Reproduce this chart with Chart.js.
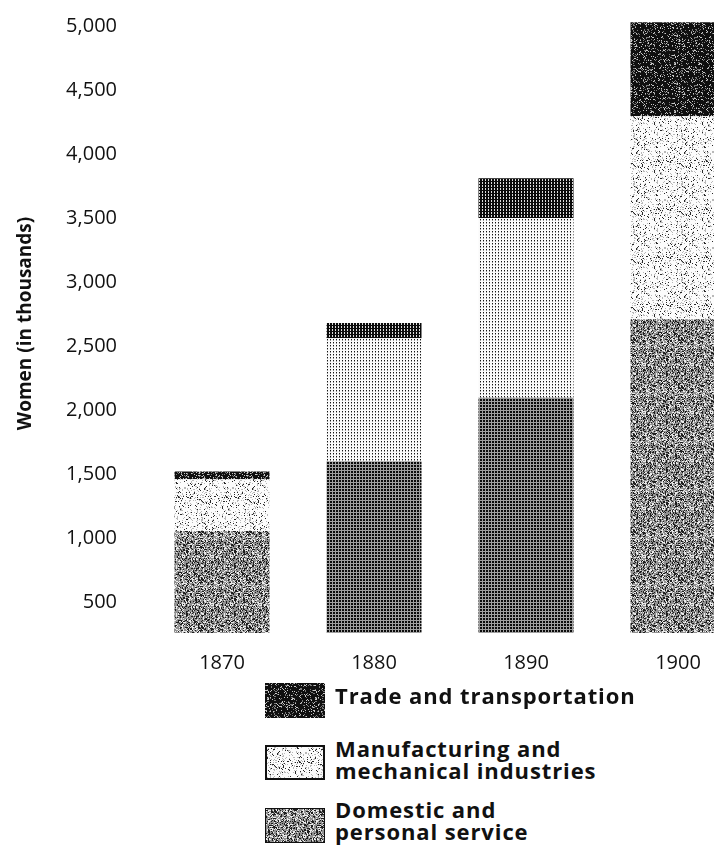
<!DOCTYPE html>
<html><head><meta charset="utf-8">
<script src="https://cdn.jsdelivr.net/npm/chart.js@4/dist/chart.umd.min.js"></script>
<style>
html,body{margin:0;padding:0;background:#fff;overflow:hidden;width:714px;height:865px;position:relative;}
#wrap{position:absolute;left:0;top:0;width:770px;height:690px;}
.sw{position:absolute;left:265px;width:60px;height:35px;}
.lt{position:absolute;left:335px;font-family:"Open Sans",sans-serif;font-weight:bold;font-size:22px;letter-spacing:0.9px;line-height:22px;color:#111;white-space:nowrap;}
</style></head><body>
<div id="wrap"><canvas id="c"></canvas></div>
<div id="legend"></div>
<script>
// ---- data ----
const years = ['1870', '1880', '1890', '1900'];
const domestic = [1055, 1600, 2095, 2710];
const manufacturing = [405, 960, 1405, 1585];
const trade = [60, 120, 310, 735];
const yTicks = [500, 1000, 1500, 2000, 2500, 3000, 3500, 4000, 4500, 5000];
const seriesNames = ['Domestic and personal service', 'Manufacturing and mechanical industries', 'Trade and transportation'];
const legendLines = [['Trade and transportation'], ['Manufacturing and', 'mechanical industries'], ['Domestic and', 'personal service']];
const yTitle = 'Women (in thousands)';

// ---- textures (print screens) ----
function hash(x, y, s) { const v = Math.sin(x * 12.9898 + y * 78.233 + s * 37.719) * 43758.5453; return v - Math.floor(v); }
function tile(w, h, fn) {
  const c = document.createElement('canvas'); c.width = w; c.height = h;
  const g = c.getContext('2d'); const img = g.createImageData(w, h);
  for (let y = 0; y < h; y++) for (let x = 0; x < w; x++) {
    const v = fn(x, y); const i = (y * w + x) * 4;
    img.data[i] = img.data[i + 1] = img.data[i + 2] = v; img.data[i + 3] = 255;
  }
  g.putImageData(img, 0, 0); return c;
}
const tDomS = tile(48, 48, (x, y) => { const r = hash(x, y, 1); return r < 0.26 ? 30 : r < 0.5 ? 235 : 145; });
const tManS = tile(48, 48, (x, y) => { const r = hash(x, y, 2); return r < 0.07 ? 40 : r < 0.22 ? 185 : 252; });
const tTrdS = tile(48, 48, (x, y) => { const r = hash(x, y, 3); return r < 0.1 ? 200 : r < 0.2 ? 120 : 15; });
const tDomG = tile(3, 3, (x, y) => (x === 2 || y === 2) ? 160 : 12);
const tManG = tile(3, 3, (x, y) => (x === 0 && y === 0) ? 20 : (x === 0 && y === 1) ? 150 : 250);
const tTrdG = tile(3, 3, (x, y) => (x === 2 && y !== 1) ? 220 : 10);

const canvas = document.getElementById('c');
const cctx = canvas.getContext('2d');
const P = t => cctx.createPattern(t, 'repeat');
const domS = P(tDomS), manS = P(tManS), trdS = P(tTrdS), domG = P(tDomG), manG = P(tManG), trdG = P(tTrdG);

const chart = new Chart(cctx, {
  type: 'bar',
  data: {
    labels: years,
    datasets: [
      { label: seriesNames[0], data: domestic, backgroundColor: [domS, domG, domG, domS], borderWidth: 0 },
      { label: seriesNames[1], data: manufacturing, backgroundColor: [manS, manG, manG, manS], borderWidth: 0 },
      { label: seriesNames[2], data: trade, backgroundColor: [trdS, trdG, trdG, trdS], borderWidth: 0 }
    ]
  },
  options: {
    responsive: true, maintainAspectRatio: false, animation: false,
    layout: { padding: { left: 0, right: 16, top: 14, bottom: 0 } },
    plugins: { legend: { display: false }, tooltip: { enabled: false } },
    datasets: { bar: { barPercentage: 0.625, categoryPercentage: 1 } },
    scales: {
      x: {
        stacked: true,
        grid: { display: false, drawTicks: false }, border: { display: false },
        ticks: { padding: 18, font: { family: 'Open Sans', size: 20 }, color: '#111' },
        afterFit(s) { s.height = 57; s.paddingLeft = 0; s.paddingRight = 0; }
      },
      y: {
        stacked: true, min: 258, max: 5094,
        grid: { display: false, drawTicks: false }, border: { display: false },
        afterBuildTicks(s) { s.ticks = yTicks.map(v => ({ value: v })); },
        ticks: { padding: 29, font: { family: 'Open Sans', size: 20 }, color: '#111', callback: v => Number(v).toLocaleString('en-US') },
        title: { display: true, text: yTitle, font: { family: 'Open Sans', size: 19, weight: 'bold' }, color: '#111', padding: { top: 14, bottom: 0 } },
        afterFit(s) { s.width = 146; s.paddingTop = 0; s.paddingBottom = 0; }
      }
    }
  }
});

// ---- HTML legend (order: trade, manufacturing, domestic) ----
const legend = document.getElementById('legend');
const swTiles = [tTrdS, tManS, tDomS];
const swBorders = [0, 2, 1];
const swTops = [683, 745, 808];
const txtTops = [684, 737, 798];
legendLines.forEach((lines, i) => {
  const sw = document.createElement('canvas');
  sw.className = 'sw'; sw.width = 60; sw.height = 35; sw.style.top = swTops[i] + 'px';
  const g = sw.getContext('2d');
  g.fillStyle = g.createPattern(swTiles[i], 'repeat'); g.fillRect(0, 0, 60, 35);
  if (swBorders[i]) { g.strokeStyle = '#111'; g.lineWidth = swBorders[i]; g.strokeRect(swBorders[i] / 2, swBorders[i] / 2, 60 - swBorders[i], 35 - swBorders[i]); }
  legend.appendChild(sw);
  const t = document.createElement('div');
  t.className = 'lt'; t.style.top = txtTops[i] + 'px';
  lines.forEach((ln, k) => { if (k) t.appendChild(document.createElement('br')); t.appendChild(document.createTextNode(ln)); });
  legend.appendChild(t);
});
</script>
</body></html>
